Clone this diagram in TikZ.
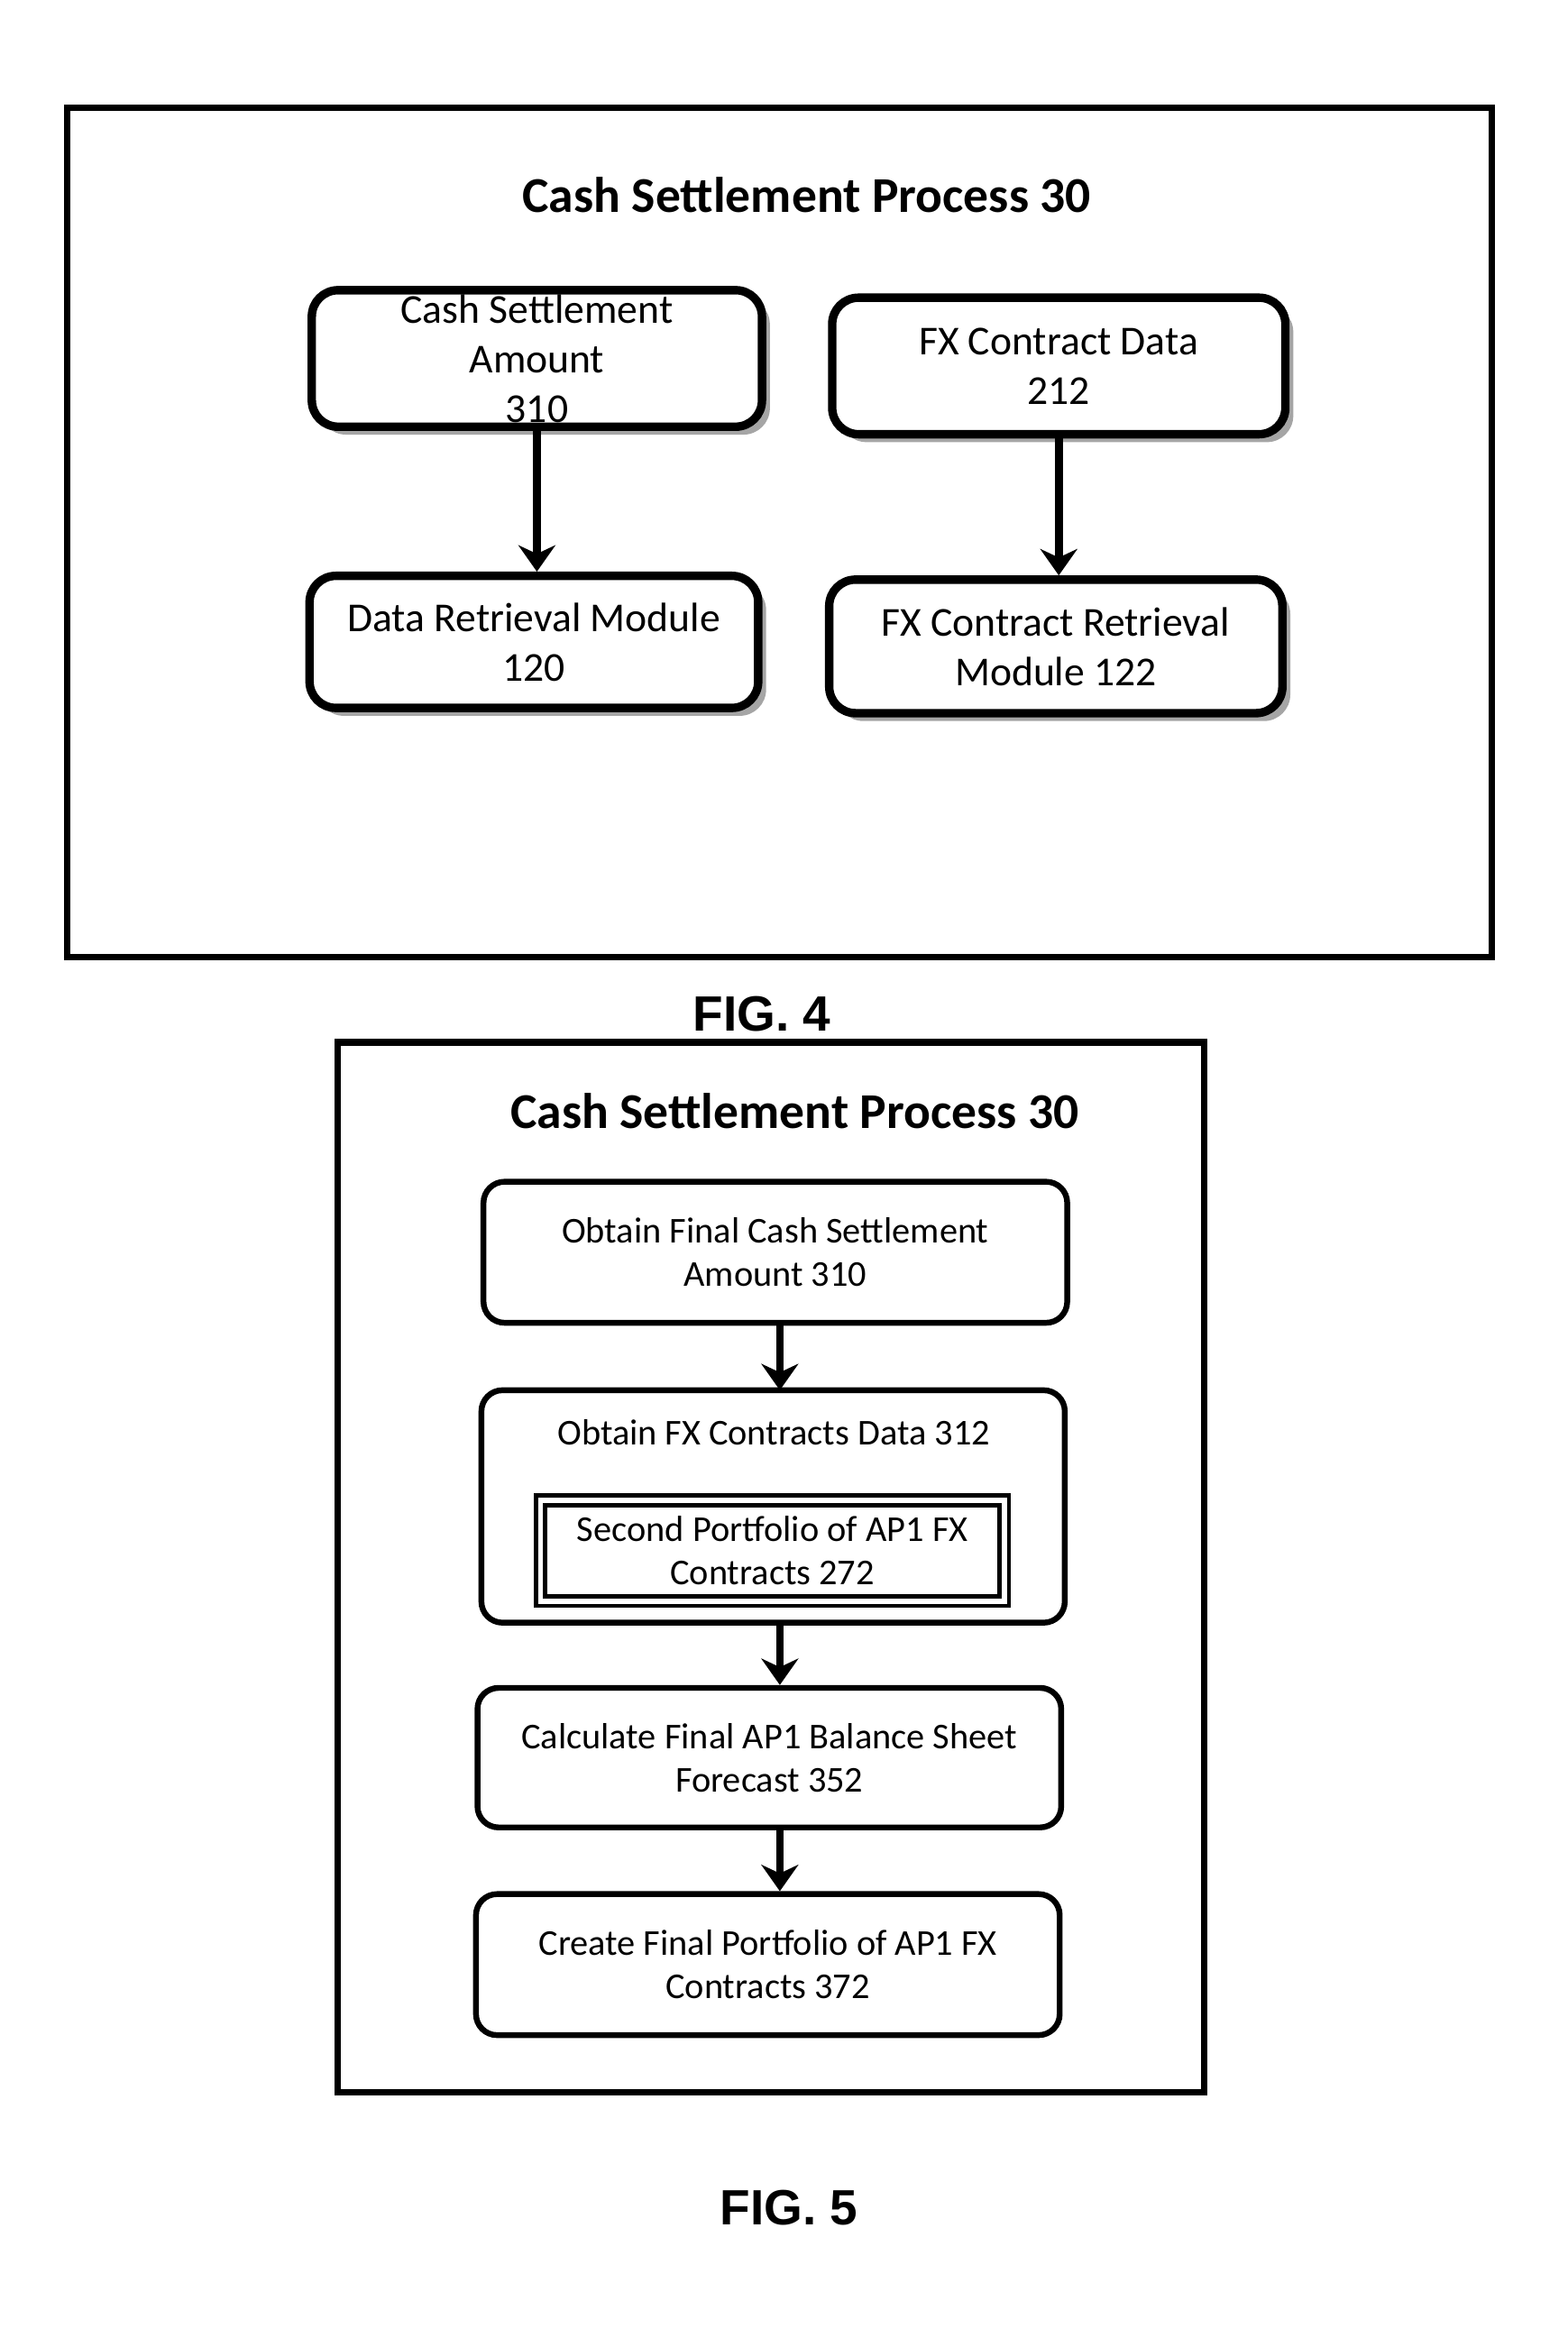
\documentclass[tikz,border=0pt]{standalone}
\usepackage{fontspec}
\setmainfont{Carlito}
\newfontfamily\figfont{Liberation Sans}
\usetikzlibrary{shadows,arrows.meta}
\tikzset{
  bigbox/.style={draw, line width=1.6pt, rounded corners=5pt, fill=white, inner sep=0pt,
    drop shadow={shadow xshift=1.5pt, shadow yshift=-1.5pt, fill=black!70},
    align=center, font=\fontsize{7.8}{9.4}\selectfont},
  stepbox/.style={draw, line width=1.1pt, rounded corners=4pt, align=center, inner sep=0pt,
    font=\fontsize{6.9}{8.2}\selectfont},
  flow/.style={line width=1.5pt, -{Stealth[length=5pt,width=7pt]}},
  heading/.style={font=\bfseries\fontsize{9.5}{11}\selectfont},
  figlabel/.style={font=\figfont\bfseries\fontsize{9.4}{11}\selectfont}
}
\begin{document}
\begin{tikzpicture}[x=0.01cm,y=-0.01cm]
  \useasboundingbox (0,0) rectangle (1045,1565);
  % FIG. 4
  \draw[line width=1.2pt] (45,72) rectangle (995,638);
  \node[heading] (t4) at (538,130) {Cash Settlement Process 30};
  \node[bigbox, minimum width=3cm, minimum height=0.91cm] (amount) at (358,239) {Cash Settlement\\Amount\\310};
  \node[bigbox, minimum width=3.02cm, minimum height=0.91cm] (fxdata) at (706,244) {FX Contract Data\\212};
  \node[bigbox, minimum width=2.99cm, minimum height=0.88cm] (retr) at (356,428) {Data Retrieval Module\\120};
  \node[bigbox, minimum width=3.02cm, minimum height=0.89cm] (fxretr) at (704,431) {FX Contract Retrieval\\Module 122};
  \draw[flow] (amount.south) -- (amount.south |- retr.north);
  \draw[flow] (fxdata.south) -- (fxdata.south |- fxretr.north);
  \node[figlabel] (f4) at (508,676) {FIG. 4};
  % FIG. 5
  \draw[line width=1.2pt] (225,695) rectangle (803,1395);
  \node[heading] (t5) at (530,741) {Cash Settlement Process 30};
  \node[stepbox, minimum width=3.89cm, minimum height=0.94cm] (obtain) at (517,835) {Obtain Final Cash Settlement\\Amount 310};
  \draw[line width=1.1pt, rounded corners=4pt] (321,927) rectangle (710,1082);
  \node[font=\fontsize{6.9}{8.2}\selectfont] (fxc) at (516,955) {Obtain FX Contracts Data 312};
  \node[draw, double, double distance=1pt, line width=0.8pt, inner sep=0pt, minimum width=3.09cm, minimum height=0.67cm, align=center, font=\fontsize{6.9}{8.2}\selectfont] (second) at (515,1034) {Second Portfolio of AP1 FX\\Contracts 272};
  \coordinate (fxtop) at (520,927);
  \coordinate (fxbot) at (520,1082);
  \node[stepbox, minimum width=3.89cm, minimum height=0.93cm] (calc) at (513,1172) {Calculate Final AP1 Balance Sheet\\Forecast 352};
  \node[stepbox, minimum width=3.89cm, minimum height=0.94cm] (create) at (512,1310) {Create Final Portfolio of AP1 FX\\Contracts 372};
  \draw[flow] (obtain.south -| fxtop) -- (fxtop);
  \draw[flow] (fxbot) -- (calc.north -| fxbot);
  \draw[flow] (calc.south -| fxbot) -- (create.north -| fxbot);
  \node[figlabel] (f5) at (526,1472) {FIG. 5};
\end{tikzpicture}
\end{document}
